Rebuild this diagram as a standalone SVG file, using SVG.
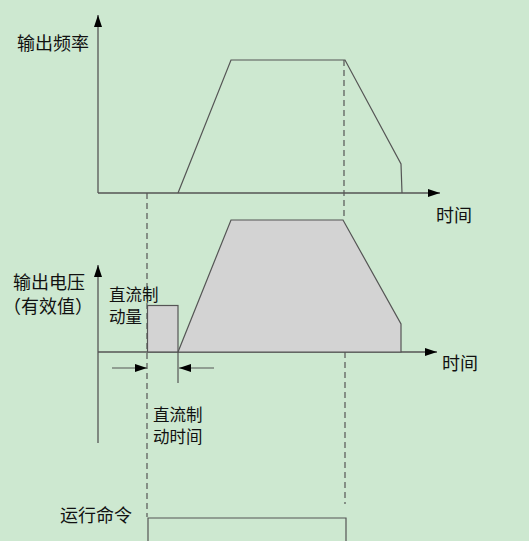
<svg xmlns="http://www.w3.org/2000/svg" width="529" height="541" viewBox="0 0 529 541">
<defs>
<marker id="ah" markerWidth="12" markerHeight="8" refX="12" refY="4" orient="auto" markerUnits="userSpaceOnUse">
<path d="M0,0 L12,4 L0,8 Z" fill="#000"/>
</marker>
<style>
.ax{stroke:#555;stroke-width:1.3;fill:none}
.ln{stroke:#555;stroke-width:1.2;fill:none}
.dash{stroke:#555;stroke-width:1.2;fill:none;stroke-dasharray:6 4}
.sh{fill:#d3d3d3;stroke:#555;stroke-width:1.2}
.t{font-family:"Noto Sans CJK SC","Noto Sans",sans-serif;font-size:18px;fill:#111}
.s{font-size:16.5px}
</style>
</defs>
<rect width="529" height="541" fill="#cde8d0"/>
<g id="connectors">
<line class="ax" x1="98" y1="193" x2="98" y2="15" marker-end="url(#ah)"/>
<line class="ax" x1="98" y1="193" x2="440" y2="193" marker-end="url(#ah)"/>
<line class="ax" x1="98" y1="443" x2="98" y2="265" marker-end="url(#ah)"/>
<line class="ax" x1="98" y1="352" x2="437" y2="352" marker-end="url(#ah)"/>
<line class="dash" x1="147" y1="193" x2="147" y2="517"/>
<line class="dash" x1="344" y1="60" x2="344" y2="220"/>
<line class="dash" x1="345" y1="352" x2="345" y2="504"/>
<line class="ln" x1="112" y1="368" x2="147" y2="368" marker-end="url(#ah)"/>
<line class="ln" x1="214" y1="368" x2="179" y2="368" marker-end="url(#ah)"/>
<line class="ln" x1="178" y1="352" x2="178" y2="383"/>
</g>
<g id="freq-curve">
<polyline class="ln" points="178,193 231,60 345,60 401,164 402,193"/>
</g>
<g id="dc-brake">
<rect class="sh" x="147.5" y="305.5" width="30.5" height="46.5"/>
</g>
<g id="voltage-curve">
<polygon class="sh" points="178,352 231,220 343,220 401,324 401,352"/>
</g>
<g id="run-command">
<polyline class="ln" points="148,541 148,518 346,518 346,541"/>
</g>
<g id="labels">
<text class="t" x="17" y="50">输出频率</text>
<text class="t" x="436" y="222">时间</text>
<text class="t" x="13" y="289">输出电压</text>
<text class="t" x="3" y="313">（有效值）</text>
<text class="t s" x="109" y="301">直流制</text>
<text class="t s" x="109" y="323">动量</text>
<text class="t s" x="153" y="421">直流制</text>
<text class="t s" x="153" y="443">动时间</text>
<text class="t" x="442" y="370">时间</text>
<text class="t" x="60" y="522">运行命令</text>
</g>
</svg>
